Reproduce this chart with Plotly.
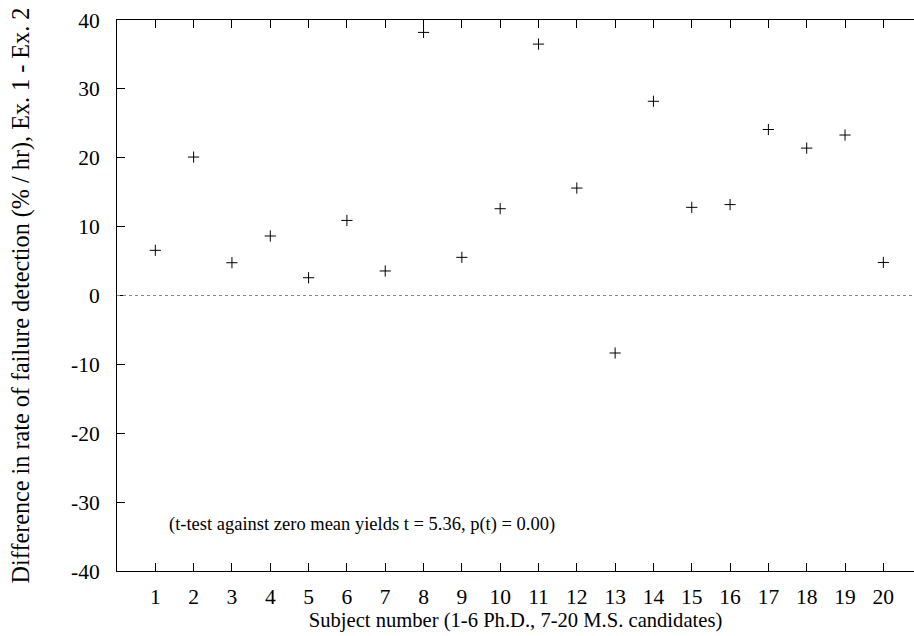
import plotly.graph_objects as go

subjects = list(range(1, 21))
differences = [6.56, 20.1, 4.76, 8.64, 2.58, 10.9, 3.56, 38.2, 5.54, 12.6,
               36.5, 15.6, -8.35, 28.2, 12.8, 13.2, 24.1, 21.4, 23.3, 4.8]
y_tick_vals = [-40, -30, -20, -10, 0, 10, 20, 30, 40]
y_tick_text = ["-40", "-30", "-20", "-10", "0", "10", "20", "30", "40"]
x_tick_vals = subjects
x_tick_text = [str(s) for s in subjects]

FONT = "Liberation Serif, Times New Roman, serif"

fig = go.Figure()
fig.add_trace(go.Scatter(
    x=subjects, y=differences, mode="markers",
    marker=dict(symbol="cross-thin", size=8, color="black",
                line=dict(color="black", width=1)),
    showlegend=False, hoverinfo="x+y",
))
fig.add_hline(y=0, line=dict(color="#888888", width=1, dash="dot"))

fig.add_annotation(
    x=1.31, y=-33.3, xref="x", yref="y", xanchor="left", yanchor="middle",
    text="(t-test against zero mean yields t = 5.36, p(t) = 0.00)",
    showarrow=False, font=dict(family=FONT, size=18.5, color="black"),
)

fig.update_layout(
    width=914, height=636,
    margin=dict(l=117, r=0, t=20, b=65),
    paper_bgcolor="white", plot_bgcolor="white",
    font=dict(family=FONT, size=18.5, color="black"),
    xaxis=dict(
        range=[0, 20.8], tickvals=x_tick_vals, ticktext=x_tick_text,
        ticks="inside", ticklen=8, tickcolor="black", tickwidth=1,
        showline=True, linecolor="black", linewidth=1, mirror="ticks",
        showgrid=False, zeroline=False, ticklabelstandoff=6,
        tickfont=dict(family=FONT, size=21.5),
        title=dict(text="Subject number (1-6 Ph.D., 7-20 M.S. candidates)",
                   font=dict(family=FONT, size=20.6), standoff=0),
    ),
    yaxis=dict(
        range=[-40, 40], tickvals=y_tick_vals, ticktext=y_tick_text,
        ticks="inside", ticklen=8, tickcolor="black", tickwidth=1,
        showline=True, linecolor="black", linewidth=1, mirror=False,
        showgrid=False, zeroline=False, ticklabelstandoff=12,
        tickfont=dict(family=FONT, size=21.5),
        title=dict(text="Difference in rate of failure detection (% / hr), Ex. 1 - Ex. 2",
                   font=dict(family=FONT, size=24.2), standoff=34),
    ),
)

fig.write_html("out.html")
